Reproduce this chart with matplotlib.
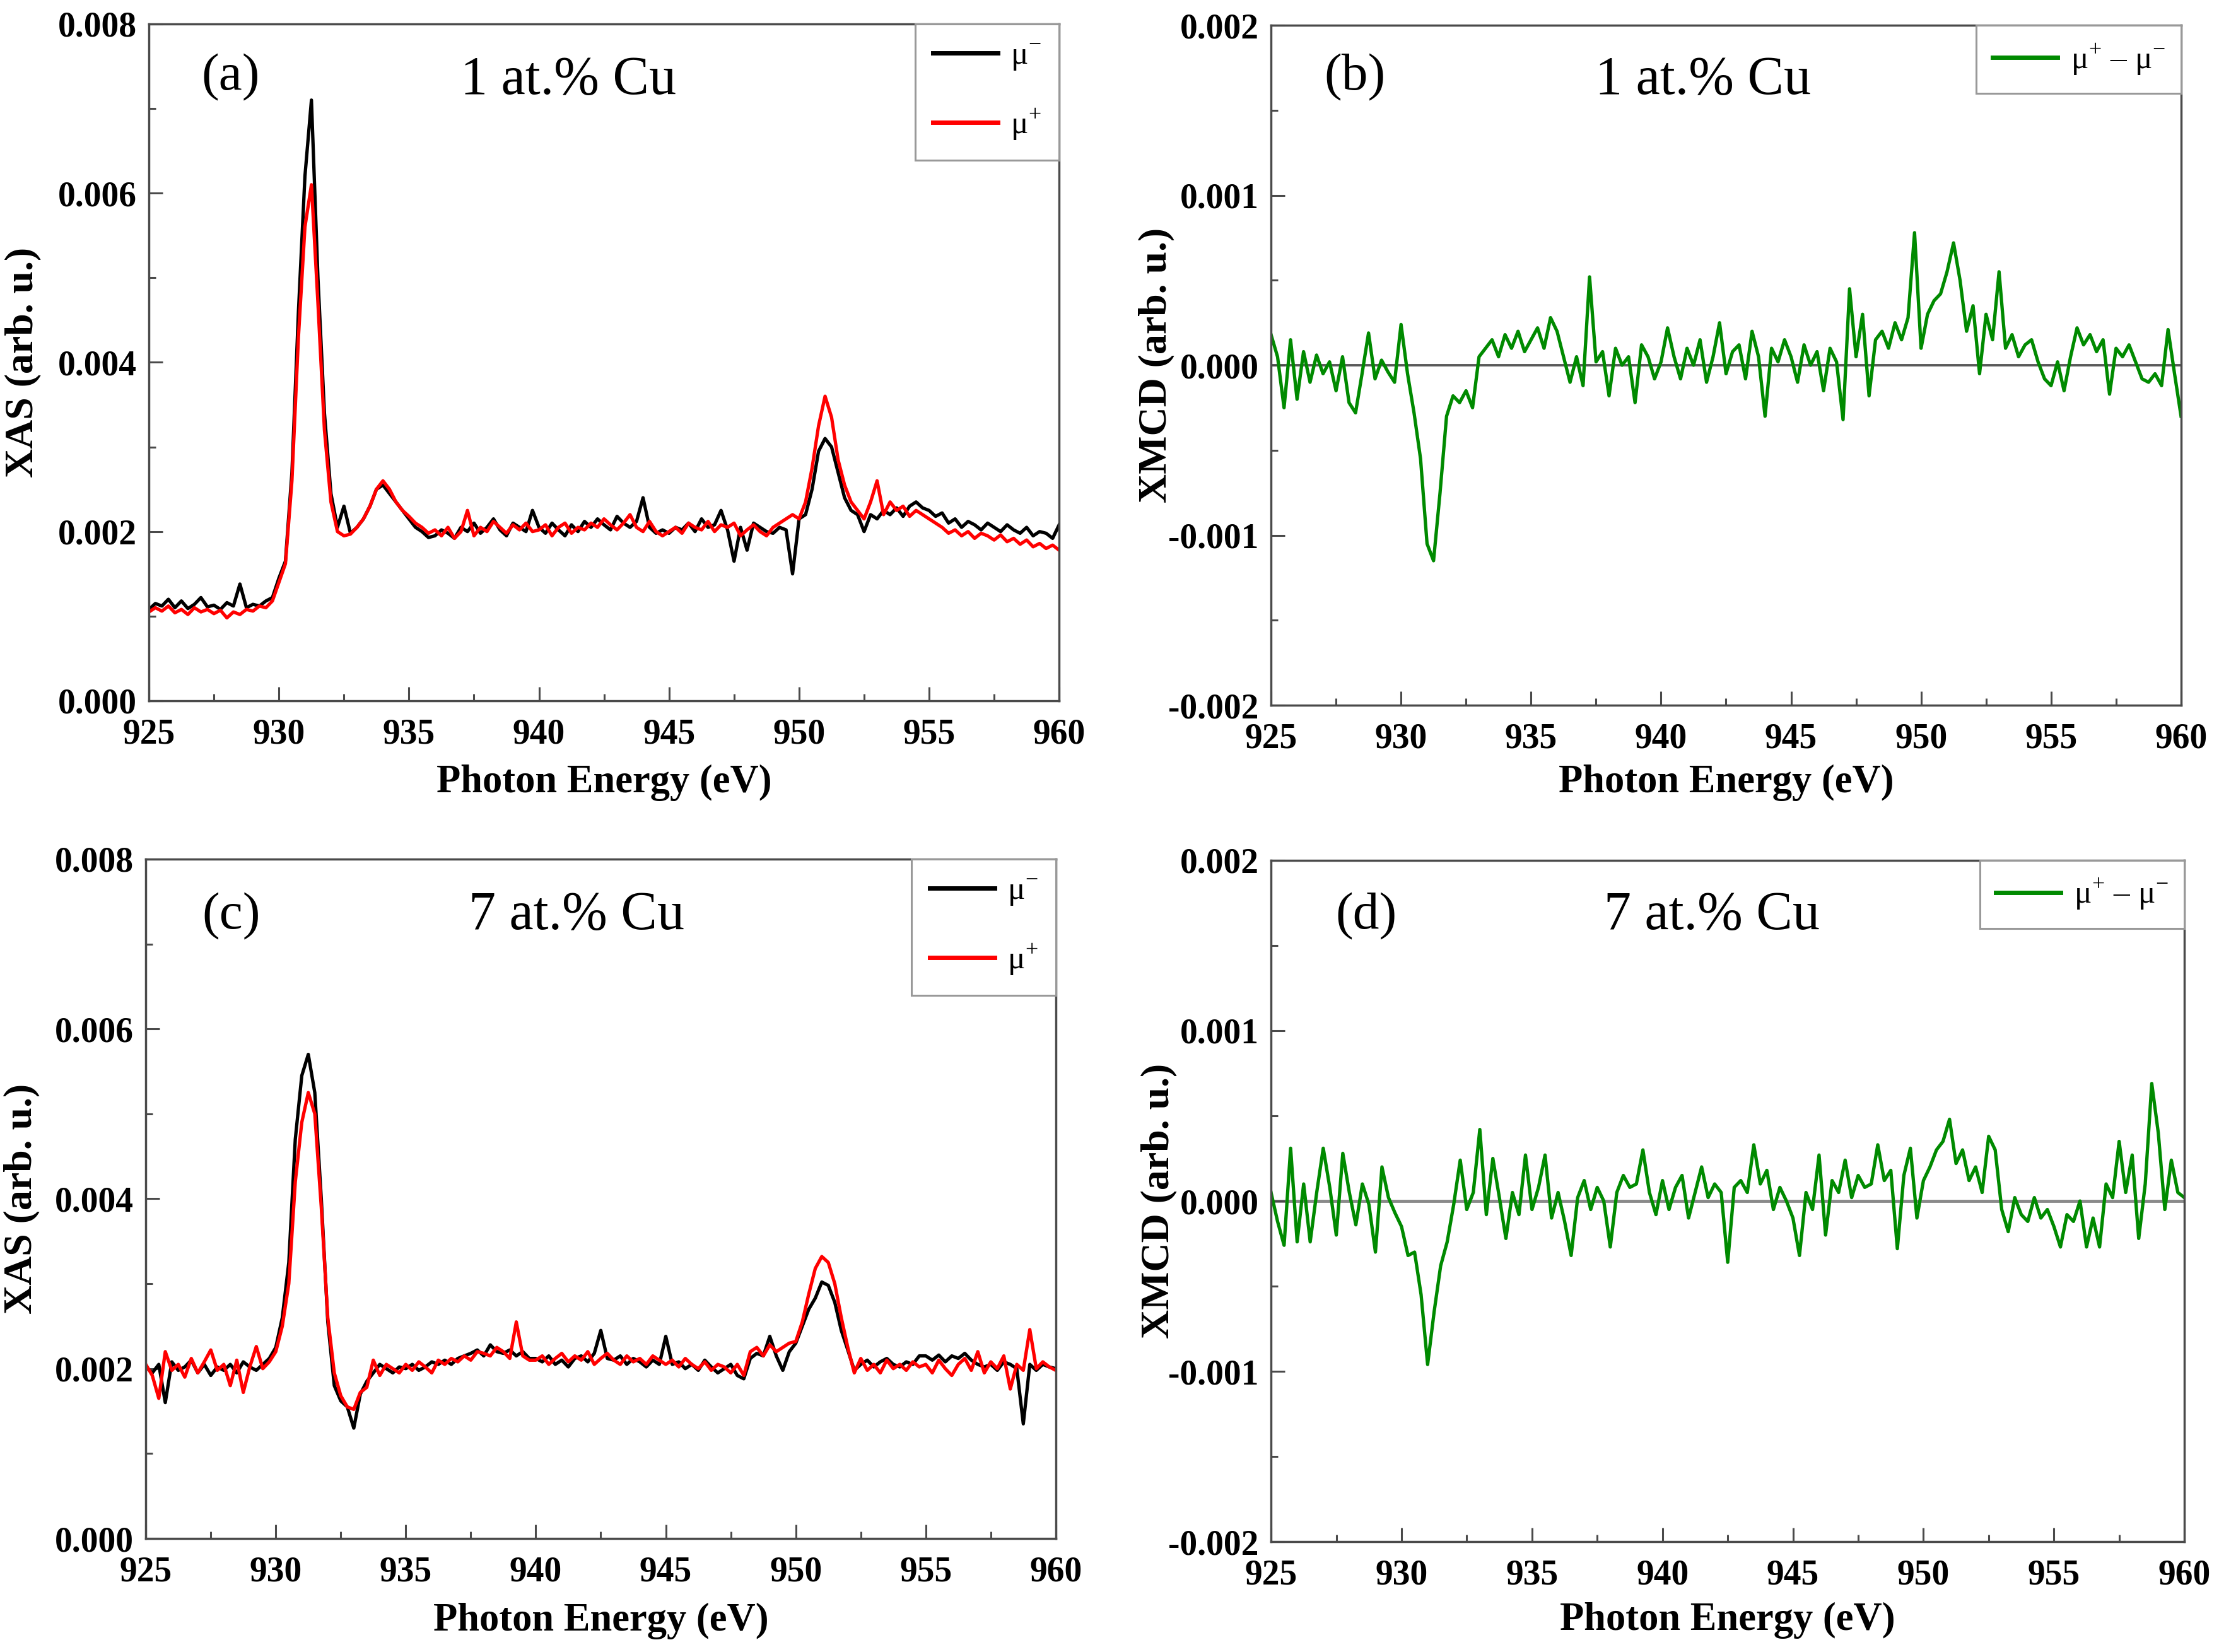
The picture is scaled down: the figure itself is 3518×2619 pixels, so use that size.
import matplotlib
matplotlib.use("Agg")
import matplotlib.pyplot as plt
from matplotlib.ticker import MultipleLocator, FormatStrFormatter
import numpy as np

plt.rcParams["font.family"] = ["Liberation Serif", "DejaVu Serif"]
plt.rcParams["mathtext.fontset"] = "custom"
plt.rcParams["mathtext.rm"] = "Liberation Serif"
plt.rcParams["axes.unicode_minus"] = False

# photon energy grid (eV), 0.25 eV step
energy = np.linspace(925, 960, 141)

# values in units of 1e-3
xas1_minus = [
    1.08, 1.15, 1.12, 1.20, 1.10, 1.18, 1.09, 1.14, 1.22, 1.11, 1.13, 1.08, 1.16, 1.12, 1.38, 1.10, 1.14, 1.12, 1.18, 1.22,
    1.45, 1.65, 2.70, 4.60, 6.20, 7.10, 5.00, 3.40, 2.45, 2.05, 2.30, 1.98, 2.05, 2.15, 2.30, 2.50, 2.55, 2.45, 2.35, 2.25,
    2.15, 2.05, 2.00, 1.93, 1.95, 2.02, 1.98, 1.92, 2.05, 2.00, 2.10, 1.98, 2.05, 2.15, 2.02, 1.95, 2.10, 2.05, 2.00, 2.25,
    2.05, 1.98, 2.10, 2.02, 1.95, 2.08, 2.00, 2.12, 2.05, 2.15, 2.08, 2.02, 2.18, 2.10, 2.05, 2.12, 2.40, 2.05, 1.98, 2.02,
    1.98, 2.05, 2.02, 2.10, 2.00, 2.15, 2.05, 2.08, 2.25, 2.02, 1.65, 2.05, 1.78, 2.10, 2.05, 2.00, 1.98, 2.05, 2.02, 1.50,
    2.15, 2.20, 2.50, 2.95, 3.10, 3.00, 2.70, 2.40, 2.25, 2.20, 2.00, 2.20, 2.15, 2.25, 2.20, 2.28, 2.18, 2.30, 2.35, 2.28,
    2.25, 2.18, 2.22, 2.10, 2.15, 2.05, 2.12, 2.08, 2.02, 2.10, 2.05, 2.00, 2.08, 2.02, 1.98, 2.05, 1.95, 2.00, 1.98, 1.92,
    2.08,
]
xas1_plus = [
    1.05, 1.10, 1.06, 1.12, 1.04, 1.08, 1.02, 1.10, 1.05, 1.08, 1.03, 1.07, 0.98, 1.05, 1.02, 1.08, 1.06, 1.12, 1.10, 1.18,
    1.40, 1.62, 2.60, 4.30, 5.60, 6.10, 4.70, 3.20, 2.35, 2.00, 1.95, 1.97, 2.05, 2.15, 2.30, 2.50, 2.60, 2.50, 2.35, 2.25,
    2.18, 2.10, 2.05, 1.98, 2.02, 1.95, 2.05, 1.92, 2.00, 2.25, 1.95, 2.05, 2.00, 2.12, 2.05, 1.98, 2.08, 2.02, 2.10, 2.00,
    2.02, 2.08, 1.95, 2.05, 2.10, 1.98, 2.05, 2.02, 2.10, 2.05, 2.15, 2.08, 2.02, 2.10, 2.20, 2.05, 2.00, 2.12, 2.00, 1.95,
    2.00, 2.05, 1.98, 2.10, 2.05, 2.02, 2.12, 2.00, 2.08, 2.05, 2.10, 1.95, 2.02, 2.08, 2.00, 1.95, 2.05, 2.10, 2.15, 2.20,
    2.15, 2.35, 2.75, 3.25, 3.60, 3.35, 2.85, 2.55, 2.35, 2.25, 2.15, 2.35, 2.60, 2.20, 2.35, 2.25, 2.30, 2.18, 2.25, 2.20,
    2.15, 2.10, 2.05, 1.98, 2.02, 1.95, 2.00, 1.92, 1.98, 1.95, 1.90, 1.96, 1.88, 1.92, 1.85, 1.90, 1.82, 1.86, 1.80, 1.84,
    1.78,
]
xmcd1 = [
    0.18, 0.05, -0.25, 0.15, -0.20, 0.08, -0.10, 0.06, -0.05, 0.02, -0.15, 0.05, -0.22, -0.28, -0.05, 0.19, -0.08, 0.03, -0.04, -0.10,
    0.24, -0.05, -0.28, -0.55, -1.05, -1.15, -0.75, -0.30, -0.18, -0.22, -0.15, -0.25, 0.05, 0.10, 0.15, 0.05, 0.18, 0.10, 0.20, 0.08,
    0.15, 0.22, 0.10, 0.28, 0.20, 0.05, -0.10, 0.05, -0.12, 0.52, 0.02, 0.08, -0.18, 0.10, 0.00, 0.05, -0.22, 0.12, 0.05, -0.08,
    0.02, 0.22, 0.05, -0.08, 0.10, 0.00, 0.15, -0.10, 0.05, 0.25, -0.05, 0.08, 0.12, -0.08, 0.20, 0.05, -0.30, 0.10, 0.02, 0.15,
    0.05, -0.10, 0.12, 0.00, 0.08, -0.15, 0.10, 0.02, -0.32, 0.45, 0.05, 0.30, -0.18, 0.15, 0.20, 0.10, 0.25, 0.15, 0.28, 0.78,
    0.10, 0.30, 0.38, 0.42, 0.55, 0.72, 0.50, 0.20, 0.35, -0.05, 0.30, 0.15, 0.55, 0.10, 0.18, 0.05, 0.12, 0.15, 0.02, -0.08,
    -0.12, 0.02, -0.15, 0.05, 0.22, 0.12, 0.18, 0.08, 0.15, -0.17, 0.10, 0.05, 0.12, 0.02, -0.08, -0.10, -0.05, -0.12, 0.21, -0.05,
    -0.30,
]
xas7_minus = [
    2.02, 1.95, 2.05, 1.60, 2.08, 1.98, 2.02, 2.10, 1.95, 2.05, 1.92, 2.02, 1.98, 2.05, 1.95, 2.08, 2.02, 1.98, 2.05, 2.12,
    2.25, 2.60, 3.25, 4.70, 5.45, 5.70, 5.25, 4.00, 2.55, 1.80, 1.62, 1.55, 1.30, 1.70, 1.85, 1.95, 2.05, 2.00, 1.95, 2.02,
    2.00, 2.05, 1.98, 2.02, 2.08, 2.05, 2.10, 2.05, 2.12, 2.15, 2.18, 2.22, 2.15, 2.28, 2.20, 2.18, 2.22, 2.15, 2.20, 2.12,
    2.12, 2.08, 2.15, 2.05, 2.10, 2.02, 2.12, 2.15, 2.08, 2.18, 2.45, 2.12, 2.10, 2.15, 2.05, 2.12, 2.08, 2.02, 2.10, 2.05,
    2.38, 2.05, 2.08, 2.00, 2.05, 1.98, 2.10, 2.02, 1.95, 2.00, 2.05, 1.92, 1.88, 2.12, 2.18, 2.15, 2.38, 2.15, 1.98, 2.20,
    2.30, 2.50, 2.70, 2.83, 3.02, 2.98, 2.78, 2.45, 2.22, 1.98, 2.05, 2.10, 2.02, 2.08, 2.12, 2.05, 2.02, 2.08, 2.05, 2.15,
    2.15, 2.10, 2.16, 2.08, 2.15, 2.12, 2.18, 2.10, 2.05, 2.02, 2.05, 1.98, 2.08, 2.05, 2.00, 1.35, 2.05, 1.98, 2.05, 2.02,
    2.00,
]
xas7_plus = [
    2.05, 1.92, 1.65, 2.20, 1.98, 2.05, 1.90, 2.12, 1.95, 2.08, 2.22, 1.98, 2.05, 1.80, 2.10, 1.72, 2.02, 2.26, 2.00, 2.08,
    2.20, 2.50, 3.00, 4.20, 4.90, 5.25, 5.00, 3.90, 2.60, 1.95, 1.68, 1.55, 1.52, 1.72, 1.78, 2.10, 1.92, 2.05, 2.00, 1.95,
    2.05, 1.98, 2.08, 2.02, 1.95, 2.10, 2.05, 2.12, 2.08, 2.15, 2.10, 2.20, 2.18, 2.15, 2.25, 2.20, 2.12, 2.55, 2.15, 2.10,
    2.10, 2.15, 2.05, 2.12, 2.18, 2.08, 2.15, 2.10, 2.20, 2.05, 2.12, 2.18, 2.10, 2.05, 2.15, 2.08, 2.12, 2.05, 2.15, 2.10,
    2.05, 2.10, 2.02, 2.12, 2.05, 2.00, 2.08, 1.98, 2.05, 2.02, 1.95, 2.05, 1.92, 2.20, 2.25, 2.15, 2.28, 2.20, 2.25, 2.30,
    2.32, 2.55, 2.88, 3.18, 3.32, 3.25, 3.00, 2.60, 2.25, 1.95, 2.12, 1.98, 2.05, 1.95, 2.10, 2.00, 2.05, 1.98, 2.08, 2.02,
    2.05, 1.95, 2.10, 2.00, 1.92, 2.05, 2.12, 1.98, 2.20, 1.95, 2.08, 2.00, 2.15, 1.76, 2.05, 1.98, 2.46, 2.00, 2.08, 2.02,
    1.98,
]
xmcd7 = [
    0.05, -0.12, -0.26, 0.31, -0.24, 0.10, -0.24, 0.05, 0.31, 0.08, -0.20, 0.28, 0.05, -0.14, 0.10, -0.02, -0.30, 0.20, 0.02, -0.07,
    -0.15, -0.32, -0.30, -0.55, -0.96, -0.65, -0.38, -0.24, -0.02, 0.24, -0.05, 0.05, 0.42, -0.08, 0.25, 0.02, -0.22, 0.05, -0.08, 0.27,
    -0.05, 0.08, 0.27, -0.10, 0.05, -0.12, -0.32, 0.02, 0.12, -0.05, 0.08, 0.00, -0.27, 0.05, 0.15, 0.08, 0.10, 0.30, 0.05, -0.08,
    0.12, -0.05, 0.08, 0.15, -0.10, 0.05, 0.20, 0.02, 0.10, 0.05, -0.36, 0.08, 0.12, 0.05, 0.33, 0.10, 0.18, -0.05, 0.08, 0.00,
    -0.10, -0.32, 0.05, -0.05, 0.27, -0.20, 0.12, 0.05, 0.24, 0.02, 0.15, 0.08, 0.10, 0.33, 0.12, 0.18, -0.28, 0.15, 0.31, -0.10,
    0.12, 0.20, 0.30, 0.35, 0.48, 0.22, 0.30, 0.12, 0.20, 0.05, 0.38, 0.30, -0.05, -0.18, 0.02, -0.08, -0.12, 0.02, -0.10, -0.05,
    -0.15, -0.27, -0.08, -0.12, 0.00, -0.27, -0.10, -0.27, 0.10, 0.02, 0.35, 0.05, 0.27, -0.22, 0.10, 0.69, 0.40, -0.05, 0.24, 0.05,
    0.02,
]

panel_tags = ["(a)", "(b)", "(c)", "(d)"]
samples = ["1 at.% Cu", "1 at.% Cu", "7 at.% Cu", "7 at.% Cu"]

SPINE = "#4a4a4a"


def style_axes(ax, xas):
    for side in ["left", "bottom", "top", "right"]:
        ax.spines[side].set_color(SPINE)
        ax.spines[side].set_linewidth(2.5)
    ax.set_xlim(925, 960)
    ax.xaxis.set_major_locator(MultipleLocator(5))
    ax.xaxis.set_minor_locator(MultipleLocator(2.5))
    if xas:
        ax.set_ylim(0, 0.008)
        ax.yaxis.set_major_locator(MultipleLocator(0.002))
        ax.yaxis.set_minor_locator(MultipleLocator(0.001))
    else:
        ax.set_ylim(-0.002, 0.002)
        ax.yaxis.set_major_locator(MultipleLocator(0.001))
        ax.yaxis.set_minor_locator(MultipleLocator(0.0005))
    ax.yaxis.set_major_formatter(FormatStrFormatter("%.3f"))
    ax.tick_params(which="both", direction="in", top=False, right=False,
                   color=SPINE, width=2.2)
    ax.tick_params(which="major", length=16)
    ax.tick_params(which="minor", length=8)
    ax.tick_params(axis="x", which="major", pad=20)
    ax.tick_params(axis="y", which="major", pad=14)
    for lab in ax.get_xticklabels() + ax.get_yticklabels():
        lab.set_fontsize(40)
        lab.set_fontweight("bold")
    ax.set_xlabel("Photon Energy (eV)", fontsize=45, fontweight="bold")
    ax.set_ylabel("XAS (arb. u.)" if xas else "XMCD (arb. u.)",
                  fontsize=46, fontweight="bold")
    ax.xaxis.label.set_va("center")
    ax.yaxis.label.set_va("center")


fig = plt.figure(figsize=(35.18, 26.19), dpi=100)

positions = [
    [0.0671, 0.5758, 0.4102, 0.4097],
    [0.5728, 0.5731, 0.4101, 0.4116],
    [0.0657, 0.0687, 0.4101, 0.4113],
    [0.5728, 0.0668, 0.4116, 0.4124],
]
xlab_y = [-0.121, -0.114, -0.121, -0.116]
ylab_x = [-0.138, -0.126, -0.136, -0.123]
tag_pos = [(0.090, 0.921), (0.092, 0.923), (0.094, 0.916), (0.104, 0.918)]
sample_pos = [(0.461, 0.916), (0.475, 0.918), (0.473, 0.916), (0.483, 0.918)]

axes = [fig.add_axes(p) for p in positions]

e = energy
LW = 3.8
axes[0].plot(e, np.array(xas1_minus) * 1e-3, color="black", lw=LW, label="μ$^{-}$")
axes[0].plot(e, np.array(xas1_plus) * 1e-3, color="#ff0000", lw=LW, label="μ$^{+}$")
axes[1].axhline(0, color="#5a5a5a", lw=2.8, zorder=1)
axes[1].plot(e, np.array(xmcd1) * 1e-3, color="#008a00", lw=LW, label="μ$^{+}$ – μ$^{-}$")
axes[2].plot(e, np.array(xas7_minus) * 1e-3, color="black", lw=LW, label="μ$^{-}$")
axes[2].plot(e, np.array(xas7_plus) * 1e-3, color="#ff0000", lw=LW, label="μ$^{+}$")
axes[3].axhline(0, color="#8a8a8a", lw=3.5, zorder=1)
axes[3].plot(e, np.array(xmcd7) * 1e-3, color="#008a00", lw=LW, label="μ$^{+}$ – μ$^{-}$")

for i, ax in enumerate(axes):
    xas = i in (0, 2)
    style_axes(ax, xas)
    ax.xaxis.set_label_coords(0.5, xlab_y[i])
    ax.yaxis.set_label_coords(ylab_x[i], 0.5)
    ax.text(*tag_pos[i], panel_tags[i], transform=ax.transAxes, fontsize=60,
            ha="center", va="center")
    ax.text(*sample_pos[i], samples[i], transform=ax.transAxes, fontsize=62,
            ha="center", va="center")
    leg = ax.legend(loc="upper right", bbox_to_anchor=(1, 1), borderaxespad=0,
                    fancybox=False, framealpha=1, edgecolor="#999999",
                    fontsize=37, handlelength=2.0, handletextpad=0.4,
                    labelspacing=1.05 if xas else 0.5,
                    borderpad=0.55 if xas else 0.5)
    leg.get_frame().set_linewidth(2.2)
    for ln in leg.get_lines():
        ln.set_linewidth(5)

fig.savefig("out.png", dpi=100)
